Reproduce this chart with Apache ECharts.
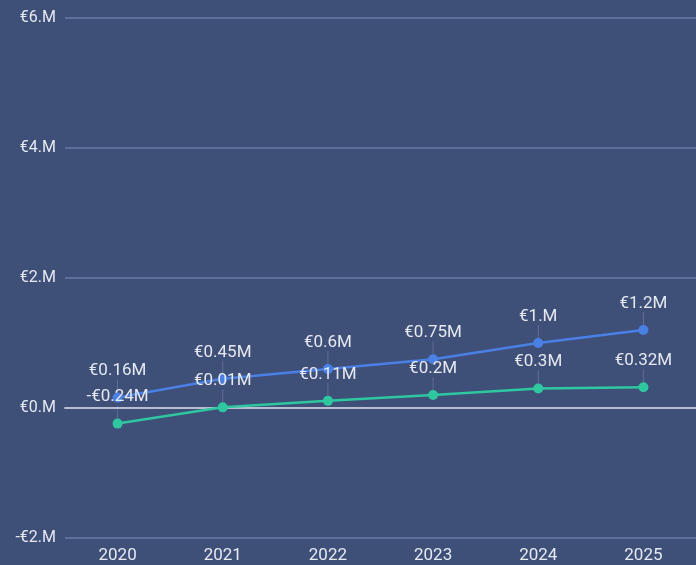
<!DOCTYPE html>
<html>
<head>
<meta charset="utf-8">
<script src="https://cdn.jsdelivr.net/npm/echarts@6/dist/echarts.min.js"></script>
<style>
  html, body { margin: 0; padding: 0; background: #3e4f78; }
  #echar { width: 696px; height: 565px; }
</style>
</head>
<body>
<div id="echar"></div>
<script>
var years = ["2020", "2021", "2022", "2023", "2024", "2025"];
var blueData = [0.16, 0.45, 0.6, 0.75, 1, 1.2];
var greenData = [-0.24, 0.01, 0.11, 0.2, 0.3, 0.32];

// integers come out as "1.M" in the original
function num(v) {
  var a = Math.abs(v);
  return Number.isInteger(a) ? a + "." : "" + a;
}
function money(v) {
  return (v < 0 ? "-€" : "€") + num(v) + "M";
}

var labelOpt = {
  show: true,
  position: "top",
  distance: 8,
  color: "#e6e9f2",
  fontSize: 17,
  fontFamily: "Roboto",
  formatter: function (p) { return money(p.value); }
};

var mychart = echarts.init(document.getElementById("echar"));
var option = {
  backgroundColor: "#3e4f78",
  textStyle: { fontFamily: "Roboto" },
  grid: { left: 65, right: -4, top: 18, bottom: 27 },
  xAxis: {
    type: "category",
    data: years,
    axisLine: { lineStyle: { color: "#b9bed3", width: 2 } },
    axisTick: { show: false },
    axisLabel: { color: "#e6e9f2", fontSize: 17, margin: 9 }
  },
  yAxis: {
    type: "value",
    min: -2,
    max: 6,
    interval: 2,
    axisLine: { show: false },
    axisTick: { show: false },
    splitLine: { lineStyle: { color: "#6a7ba6", width: 1.5 } },
    axisLabel: {
      color: "#e6e9f2",
      fontSize: 16,
      margin: 9,
      formatter: function (v) { return money(v); }
    }
  },
  series: [
    {
      name: "blue",
      type: "line",
      data: blueData,
      symbol: "circle",
      symbolSize: 10,
      itemStyle: { color: "#4a80e4" },
      lineStyle: { color: "#4a80e4", width: 2.5 },
      label: labelOpt,
      labelLayout: { dy: -5 },
      labelLine: { show: true, lineStyle: { color: "rgba(200,205,225,0.25)", width: 1 } }
    },
    {
      name: "green",
      type: "line",
      data: greenData,
      symbol: "circle",
      symbolSize: 10,
      itemStyle: { color: "#2fc79f" },
      lineStyle: { color: "#2fc79f", width: 2.5 },
      label: labelOpt,
      labelLayout: { dy: -5 },
      labelLine: { show: true, lineStyle: { color: "rgba(200,205,225,0.25)", width: 1 } }
    }
  ]
};
mychart.setOption(option);
</script>
</body>
</html>
